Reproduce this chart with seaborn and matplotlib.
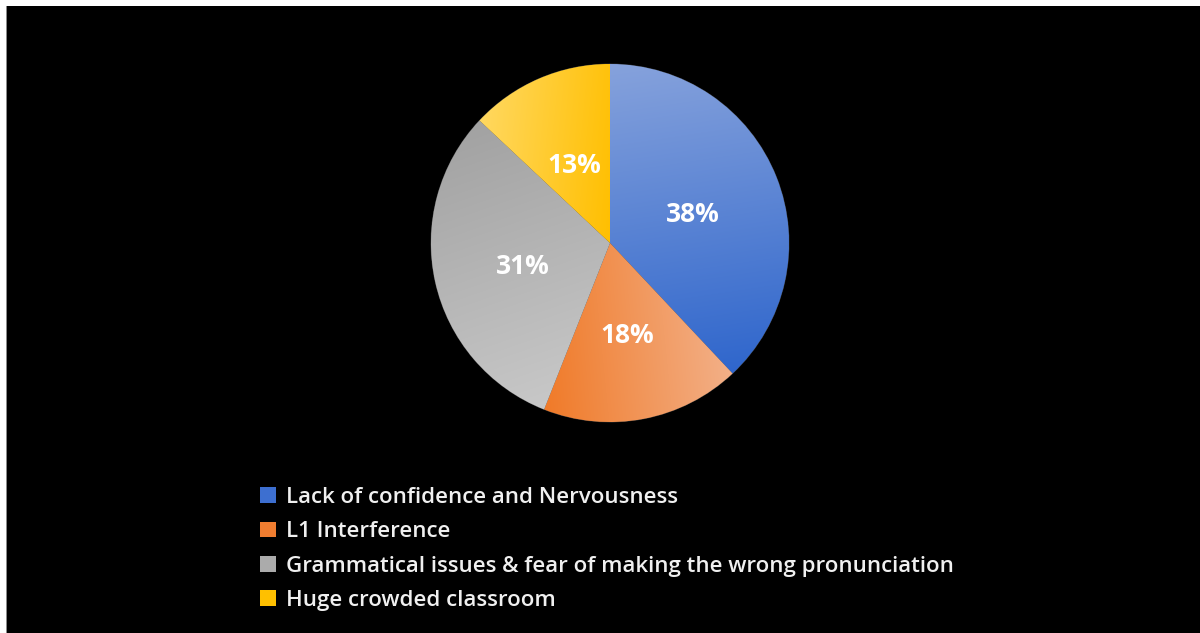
import numpy as np
import matplotlib
matplotlib.use("Agg")
import matplotlib.pyplot as plt
import matplotlib.patches as mpatches
from matplotlib.colors import to_rgb
import seaborn as sns

# Survey results: speaking difficulties reported by learners
categories = [
    "Lack of confidence and Nervousness",
    "L1 Interference",
    "Grammatical issues & fear of making the wrong pronunciation",
    "Huge crowded classroom",
]
shares = [38, 18, 31, 13]

# solid colours for the legend keys, gradient end colours for the wedges
key_colors = ["#3d6fd0", "#f07d30", "#ababab", "#ffc000"]
grad_start = ["#86a2dc", "#f07a28", "#a2a2a2", "#ffd860"]
grad_end = ["#2f66cc", "#f3b088", "#c8c8c8", "#ffbf00"]
grad_dir = [(0.15, -1.0), (1.0, 0.1), (0.35, -1.0), (1.0, -0.1)]

sns.set_theme(style="dark")
plt.rcParams["font.family"] = ["Open Sans", "DejaVu Sans"]

W, H = 1200, 633
fig = plt.figure(figsize=(W / 100, H / 100), dpi=100)
fig.patch.set_facecolor("black")

# thin white margin along the top and left edges
fig.add_artist(mpatches.Rectangle((0, 1 - 6 / H), 1, 6 / H, transform=fig.transFigure,
                                  facecolor="white", edgecolor="none", zorder=5))
fig.add_artist(mpatches.Rectangle((0, 0), 6 / W, 1, transform=fig.transFigure,
                                  facecolor="white", edgecolor="none", zorder=5))
fig.add_artist(mpatches.Rectangle((6 / W, 0), 1.2 / W, 1 - 6 / H, transform=fig.transFigure,
                                  facecolor="#8a8a8a", edgecolor="none", zorder=5))

cx, cy, r = 610, 243, 179
ax = fig.add_axes([(cx - r) / W, (H - cy - r) / H, 2 * r / W, 2 * r / H])
ax.set_facecolor("black")

wedges, texts, autotexts = ax.pie(
    shares,
    startangle=90,
    counterclock=False,
    colors=key_colors,
    autopct="%d%%",
    pctdistance=0.5,
    wedgeprops=dict(linewidth=0.6, edgecolor="#3a3a3a"),
    textprops=dict(color="white", fontsize=19, fontweight="bold"),
)
ax.set_xlim(-1.0, 1.0)
ax.set_ylim(-1.0, 1.0)
ax.set_aspect("equal")
ax.axis("off")

# linear gradient fill clipped to each wedge
n = 400
xs = np.linspace(-1, 1, n)
gx, gy = np.meshgrid(xs, xs[::-1])
for w, c0, c1, d in zip(wedges, grad_start, grad_end, grad_dir):
    d = np.array(d) / np.hypot(*d)
    verts = w.get_path().vertices
    proj = verts @ d
    t = ((gx * d[0] + gy * d[1]) - proj.min()) / (proj.max() - proj.min())
    t = np.clip(t, 0, 1)[..., None]
    img = (1 - t) * np.array(to_rgb(c0)) + t * np.array(to_rgb(c1))
    im = ax.imshow(img, extent=(-1, 1, -1, 1), zorder=w.get_zorder() + 0.1,
                   interpolation="bilinear")
    im.set_clip_path(w)

# nudge the percentage labels so the digits sit centred in their wedges
for t in autotexts:
    x, y = t.get_position()
    t.set_position((x, y - 0.025))
    t.set_zorder(10)

handles = [mpatches.Patch(facecolor=c, edgecolor="none") for c in key_colors]
leg = fig.legend(
    handles, categories,
    loc="upper left",
    bbox_to_anchor=(260 / W, 1 - 487 / H),
    frameon=False,
    prop=dict(size=16, weight="semibold"),
    labelcolor="#f0f0f0",
    handlelength=0.72,
    handleheight=0.72,
    handletextpad=0.45,
    labelspacing=0.6,
    borderaxespad=0,
    borderpad=0,
)

fig.savefig("out.png", dpi=100, facecolor=fig.get_facecolor())
